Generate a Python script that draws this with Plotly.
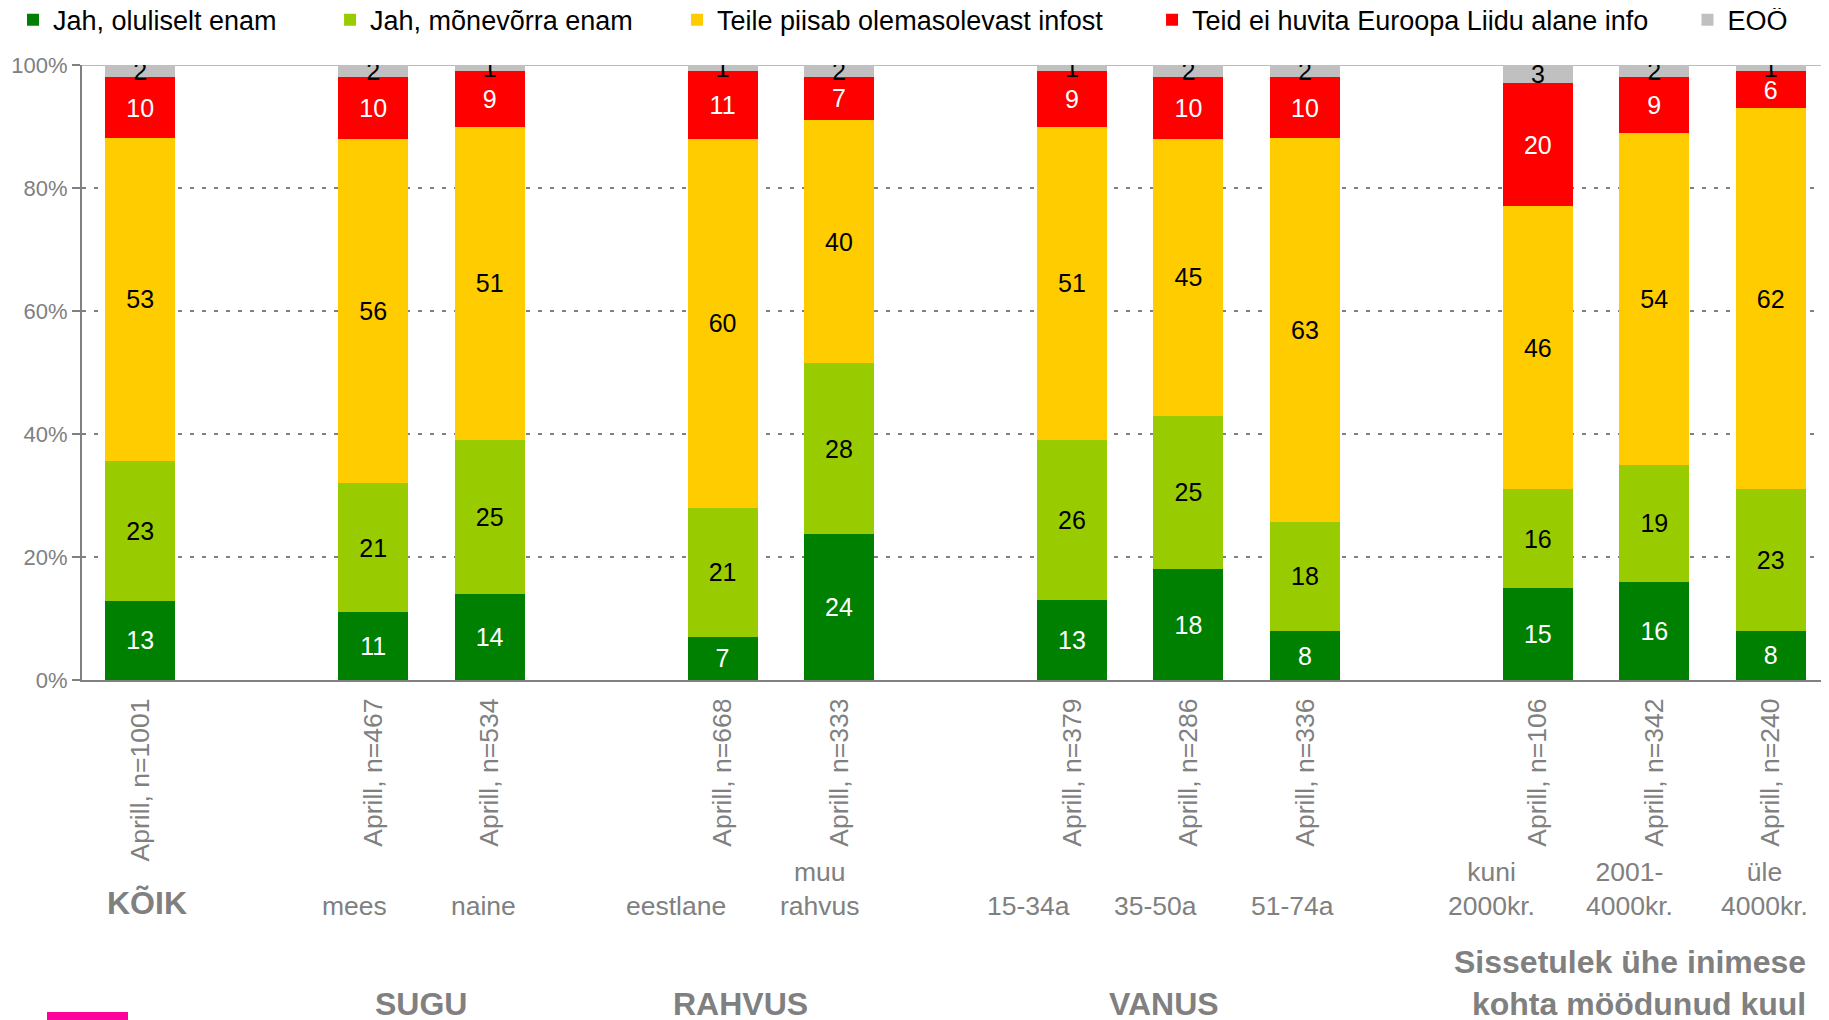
import plotly.graph_objects as go

# ---------------- data ----------------
bar_slots = [0, 2, 3, 5, 6, 8, 9, 10, 12, 13, 14]
tick_labels = ["Aprill, n=1001", "Aprill, n=467", "Aprill, n=534", "Aprill, n=668",
               "Aprill, n=333", "Aprill, n=379", "Aprill, n=286", "Aprill, n=336",
               "Aprill, n=106", "Aprill, n=342", "Aprill, n=240"]
category_labels = ["<b>KÕIK</b>", "mees", "naine", "eestlane", "muu<br>rahvus",
                   "15-34a", "35-50a", "51-74a", "kuni<br>2000kr.", "2001-<br>4000kr.",
                   "üle<br>4000kr."]
group_titles = ["SUGU", "RAHVUS", "VANUS", "Sissetulek ühe inimese<br>kohta möödunud kuul"]
y_tick_vals = [0, 20, 40, 60, 80, 100]
y_tick_text = ["0%", "20%", "40%", "60%", "80%", "100%"]

series_names = ["Jah, oluliselt enam", "Jah, mõnevõrra enam", "Teile piisab olemasolevast infost",
                "Teid ei huvita Euroopa Liidu alane info", "EOÖ"]
oluliselt = [13, 11, 14, 7, 24, 13, 18, 8, 15, 16, 8]
monevorra = [23, 21, 25, 21, 28, 26, 25, 18, 16, 19, 23]
piisab = [53, 56, 51, 60, 40, 51, 45, 63, 46, 54, 62]
ei_huvita = [10, 10, 9, 11, 7, 9, 10, 10, 20, 9, 6]
eoo = [2, 2, 1, 1, 2, 1, 2, 2, 3, 2, 1]
series_values = [oluliselt, monevorra, piisab, ei_huvita, eoo]

# ---------------- styles / layout ----------------
colors = ["#008000", "#99CC00", "#FFCC00", "#FF0000", "#C0C0C0"]
text_colors = ["white", "black", "black", "white", "black"]
legend_ids = ["legend", "legend2", "legend3", "legend4", "legend5"]
legend_x = [-0.0395, 0.142, 0.3406, 0.6125, 0.919]

cat_label_x = [0.06, 1.84, 2.95, 4.6, 5.84, 7.63, 8.72, 9.89, 11.6, 12.79, 13.95]
group_title_x = [2.41, 5.15, 8.79, 14.32]

FONT = "Liberation Sans, Arial, sans-serif"
GREY = "#808080"

fig = go.Figure()
for i, (name, vals) in enumerate(zip(series_names, series_values)):
    fig.add_trace(go.Bar(
        x=bar_slots, y=vals, name=name,
        marker=dict(color=colors[i], line=dict(width=0)),
        width=0.6,
        text=[str(v) for v in vals],
        textposition="inside",
        insidetextanchor="middle",
        constraintext="none",
        textangle=0,
        insidetextfont=dict(color=text_colors[i], size=25, family=FONT),
        hoverinfo="skip",
        legend=legend_ids[i],
    ))

layout_legends = {}
for i, lid in enumerate(legend_ids):
    layout_legends[lid] = dict(
        x=legend_x[i], y=1.073, xanchor="left", yanchor="middle",
        orientation="h", font=dict(size=27, color="black", family=FONT),
        bgcolor="rgba(0,0,0,0)", borderwidth=0,
    )

annotations = []
for xv, txt in zip(cat_label_x, category_labels):
    bold = txt.startswith("<b>")
    annotations.append(dict(
        x=xv, y=-0.395, xref="x", yref="paper", text=txt, showarrow=False,
        xanchor="center", yanchor="bottom", align="center",
        font=dict(size=32 if bold else 26.5, color=GREY, family=FONT),
    ))
for j, (xv, txt) in enumerate(zip(group_title_x, group_titles)):
    last = j == len(group_titles) - 1
    annotations.append(dict(
        x=xv, y=-0.56, xref="x", yref="paper", text="<b>" + txt + "</b>", showarrow=False,
        xanchor="right" if last else "center", yanchor="bottom",
        align="right" if last else "center",
        font=dict(size=32, color=GREY, family=FONT),
    ))

# page body adds an 8px offset, so the figure is slightly smaller than the window
fig.update_layout(
    width=1821, height=1012,
    margin=dict(l=74, r=0, t=57, b=340, autoexpand=False),
    paper_bgcolor="white", plot_bgcolor="white",
    barmode="stack", barnorm="percent",
    showlegend=True,
    font=dict(family=FONT),
    annotations=annotations,
    shapes=[
        dict(type="line", xref="paper", yref="y", x0=0, x1=1, y0=100, y1=100,
             line=dict(color="#BBBBBB", width=2), layer="below"),
        dict(type="rect", xref="paper", yref="paper",
             x0=(47 - 82) / 1747, x1=(128 - 82) / 1747,
             y0=(680 - 1030) / 615, y1=(680 - 1012) / 615,
             fillcolor="#FF0099", line=dict(width=0)),
    ],
    **layout_legends,
)

fig.update_xaxes(
    range=[-0.5, 14.5], tickmode="array", tickvals=bar_slots, ticktext=tick_labels,
    tickangle=-90, tickfont=dict(size=26.5, color=GREY, family=FONT),
    showline=True, linecolor=GREY, linewidth=2, showgrid=False,
    ticks="", ticklabelstandoff=6, zeroline=False, fixedrange=True,
)
fig.update_yaxes(
    range=[0, 100], tickmode="array", tickvals=y_tick_vals, ticktext=y_tick_text,
    tickfont=dict(size=22, color=GREY, family=FONT),
    showline=True, linecolor=GREY, linewidth=2,
    ticks="outside", ticklen=8, tickcolor=GREY, tickwidth=2,
    showgrid=True, gridcolor=GREY, griddash="4px,8px", gridwidth=1.5,
    zeroline=False, fixedrange=True,
)

fig.write_html("out.html")
